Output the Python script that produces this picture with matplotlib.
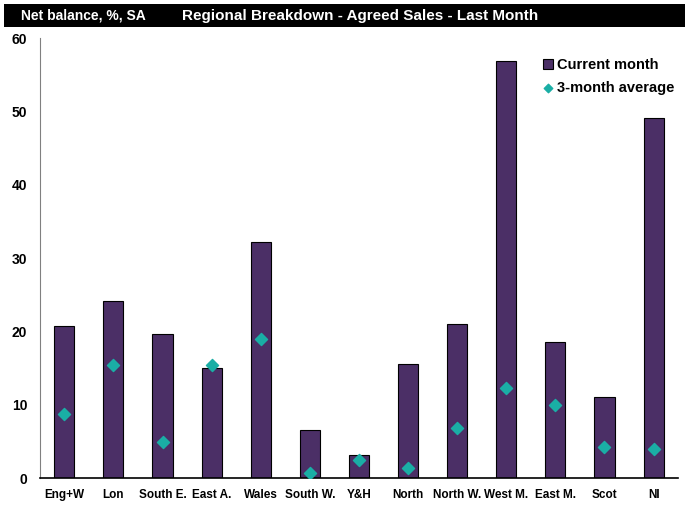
import matplotlib
matplotlib.use("Agg")
import matplotlib.pyplot as plt
from matplotlib.patches import Rectangle

# Dados
regioes = ["Eng+W", "Lon", "South E.", "East A.", "Wales", "South W.", "Y&H",
           "North", "North W.", "West M.", "East M.", "Scot", "NI"]
mes_atual = [20.8, 24.1, 19.6, 15.0, 32.2, 6.5, 3.1, 15.5, 21.0, 56.9, 18.5, 11.0, 49.1]
media_3m = [8.8, 15.4, 4.9, 15.4, 18.9, 0.7, 2.4, 1.35, 6.8, 12.3, 9.95, 4.3, 3.95]
y_ticks = [0, 10, 20, 30, 40, 50, 60]

roxo = "#4b2f66"
verde = "#1aaea5"

plt.rcParams["font.family"] = ["Liberation Sans", "DejaVu Sans"]
plt.rcParams["font.weight"] = "bold"

fig = plt.figure(figsize=(6.85, 5.07), dpi=100)
ax = fig.add_axes([0.058, 0.057, 0.932, 0.868])

x = list(range(len(regioes)))
barras = ax.bar(x, mes_atual, width=0.41, color=roxo, edgecolor="black", linewidth=0.8,
                label="Current month", zorder=2)
pontos = ax.scatter(x, media_3m, marker="D", s=38, color=verde, label="3-month average",
                    zorder=3)

ax.set_xlim(-0.5, len(regioes) - 0.5)
ax.set_ylim(0, 60)
ax.set_yticks(y_ticks)
ax.set_xticks(x)
ax.set_xticklabels(regioes, fontsize=8.5, fontweight="bold")
ax.set_yticklabels([str(t) for t in y_ticks], fontsize=10, fontweight="bold")
ax.tick_params(length=0, pad=8)
ax.tick_params(axis="y", pad=9)

for lado in ["top", "right"]:
    ax.spines[lado].set_visible(False)
ax.spines["left"].set_color("#808080")
ax.spines["bottom"].set_color("black")
ax.spines["bottom"].set_linewidth(1.2)

leg = ax.legend([barras, pontos], ["Current month", "3-month average"],
                loc="upper right", bbox_to_anchor=(1.015, 0.985), frameon=False,
                fontsize=10.5, handlelength=0.7, handletextpad=0.3,
                labelspacing=0.6, markerscale=0.7)
for t in leg.get_texts():
    t.set_fontweight("bold")

# Faixa preta do título
fig.patches.append(Rectangle((0.006, 0.947), 0.994, 0.045, transform=fig.transFigure,
                             facecolor="black", edgecolor="none"))
fig.text(0.03, 0.969, "Net balance, %, SA", color="white", fontsize=10,
         fontweight="bold", va="center", ha="left")
fig.text(0.525, 0.969, "Regional Breakdown - Agreed Sales - Last Month", color="white",
         fontsize=11, fontweight="bold", va="center", ha="center")

fig.savefig("out.png", dpi=100)
